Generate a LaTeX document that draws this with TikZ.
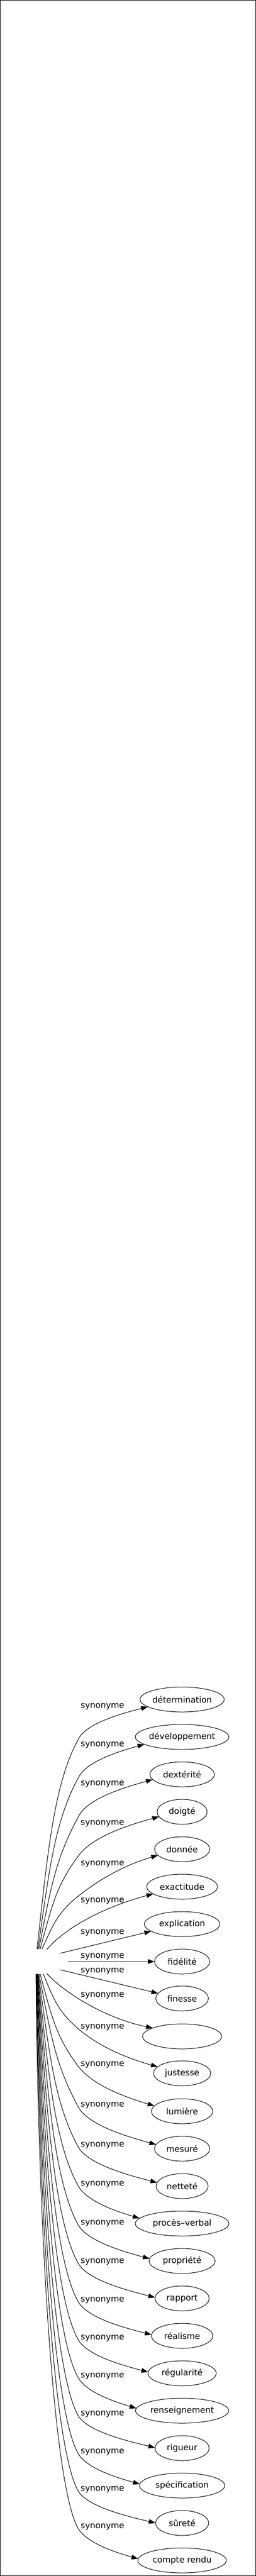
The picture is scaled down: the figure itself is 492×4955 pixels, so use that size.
\documentclass[tikz,border=0pt]{standalone}
\usepackage{fontspec}
\setmainfont{DejaVu Sans}
\usetikzlibrary{shapes.geometric,arrows.meta}
\begin{document}
\begin{tikzpicture}[x=0.75pt,y=-0.75pt,
  syn/.style={ellipse,draw,line width=0.75pt,inner sep=0pt,outer sep=0pt,minimum height=36pt,font=\fontsize{12.15pt}{14pt}\selectfont},
  rootnode/.style={ellipse,inner sep=0pt,outer sep=0pt,minimum width=87pt,minimum height=36pt},
  lab/.style={anchor=base,inner sep=0pt,font=\fontsize{12.15pt}{14pt}\selectfont},
  edge/.style={line width=0.75pt,-{Triangle[length=9.75pt,width=6.75pt]}}]
\useasboundingbox (0,0) rectangle (492,4955);
\draw[line width=0.75pt] (0.5,0.5) rectangle (491.3,4954.3);

\node[rootnode] (root) at (72,3773) {};

\node[syn,minimum width=120pt]    (n1)  at (350,3269) {détermination};
\node[syn,minimum width=131.25pt] (n2)  at (350,3341) {développement};
\node[syn,minimum width=93pt]     (n3)  at (350,3413) {dextérité};
\node[syn,minimum width=72pt]     (n4)  at (350,3485) {doigté};
\node[syn,minimum width=79.5pt]   (n5)  at (350,3557) {donnée};
\node[syn,minimum width=102pt]    (n6)  at (350,3629) {exactitude};
\node[syn,minimum width=108.75pt] (n7)  at (350,3701) {explication};
\node[syn,minimum width=79.5pt]   (n8)  at (350,3773) {fidélité};
\node[syn,minimum width=75.75pt]  (n9)  at (350,3844) {finesse};
\node[syn,minimum width=114pt]    (n10) at (350,3917) {};
\node[syn,minimum width=82.5pt]   (n11) at (350,3988) {justesse};
\node[syn,minimum width=88.5pt]   (n12) at (350,4061) {lumière};
\node[syn,minimum width=79.5pt]   (n13) at (350,4133) {mesuré};
\node[syn,minimum width=75pt]     (n14) at (350,4205) {netteté};
\node[syn,minimum width=135pt]    (n15) at (350,4277) {procès–verbal};
\node[syn,minimum width=95.25pt]  (n16) at (350,4349) {propriété};
\node[syn,minimum width=78pt]     (n17) at (350,4421) {rapport};
\node[syn,minimum width=88.5pt]   (n18) at (350,4493) {réalisme};
\node[syn,minimum width=98.25pt]  (n19) at (350,4565) {régularité};
\node[syn,minimum width=134.25pt] (n20) at (350,4637) {renseignement};
\node[syn,minimum width=78pt]     (n21) at (350,4709) {rigueur};
\node[syn,minimum width=123pt]    (n22) at (350,4781) {spécification};
\node[syn,minimum width=76.5pt]   (n23) at (350,4853) {sûreté};
\node[syn,minimum width=127.5pt]  (n24) at (350,4925) {compte rendu};

% edges
\draw[edge] (root.92) .. controls (91.5,3566.3) and (103.4,3428) .. (152,3343) .. controls (169.2,3313) and (238.3,3294.9) .. (n1.192);
\draw[edge] (root.88) .. controls (94.6,3599.6) and (104.5,3502) .. (152,3417) .. controls (169.3,3386) and (234.3,3367.3) .. (n2.191);
\draw[edge] (root.84) .. controls (97.6,3633.3) and (105.5,3576.8) .. (152,3492) .. controls (170.9,3457.5) and (244,3436.8) .. (n3.190);
\draw[edge] (root.78) .. controls (99.6,3667.5) and (107.1,3627.7) .. (152,3568) .. controls (179.7,3531.2) and (252,3509.1) .. (n4.192);
\draw[edge] (root.70) .. controls (102,3702.8) and (109.2,3680.1) .. (152,3646) .. controls (200.6,3607.3) and (250.5,3584.1) .. (n5.194);
\draw[edge] (root.52) .. controls (125,3708) and (200,3668) .. (n6.194);
\draw[edge] (root.20) -- (n7.193);
\draw[edge] (root.east) -- (n8.west);
\draw[edge] (root.-20) -- (n9.168);
\draw[edge] (root.-52) .. controls (120,3830) and (200,3882) .. (n10.164);
\draw[edge] (root.-65) .. controls (103.1,3844) and (109.8,3867.2) .. (150,3902) .. controls (192.4,3938.7) and (249.5,3960.7) .. (n11.165);
\draw[edge] (root.-78) .. controls (99,3876.6) and (106.3,3915.6) .. (150,3974) .. controls (178.7,4012.4) and (245.4,4035.4) .. (n12.169);
\draw[edge] (root.-83) .. controls (97.4,3911.8) and (105,3967.8) .. (150,4052) .. controls (169.5,4088.6) and (247.5,4110.5) .. (n13.171);
\draw[edge] (root.-86) .. controls (94.7,3946.4) and (104.2,4044) .. (150,4129) .. controls (168.7,4163.7) and (248.8,4184.4) .. (n14.172);
\draw[edge] (root.-88) .. controls (92.3,3980.2) and (103.7,4119) .. (150,4204) .. controls (167.2,4235.5) and (226.8,4254.4) .. (n15.173);
\draw[edge] (root.-89) .. controls (90.3,4013.9) and (103.4,4194) .. (150,4279) .. controls (168,4311.8) and (239.4,4331.5) .. (n16.176);
\draw[edge] (root.-90) .. controls (88.2,4047.2) and (103.2,4268) .. (150,4353) .. controls (168.2,4386.1) and (246.2,4406) .. (n17.178);
\draw[edge] (root.-91) .. controls (86.2,4080.5) and (103,4342) .. (150,4427) .. controls (167.7,4459) and (241.8,4478.1) .. (n18.178);
\draw[edge] (root.-92) .. controls (84.1,4113.4) and (102.7,4415) .. (150,4500) .. controls (167.5,4531.4) and (237.6,4550.2) .. (n19.178);
\draw[edge] (root.-93) .. controls (82,4146.2) and (102.4,4488) .. (150,4573) .. controls (166.6,4602.7) and (222.9,4620.5) .. (n20.177);
\draw[edge] (root.-94) .. controls (79.9,4179) and (102.2,4561) .. (150,4646) .. controls (167.4,4677) and (246.2,4695.7) .. (n21.179);
\draw[edge] (root.-95) .. controls (77.8,4211.9) and (101.9,4634) .. (150,4719) .. controls (166.7,4748.6) and (227,4766.4) .. (n22.178);
\draw[edge] (root.-96) .. controls (75.7,4244.3) and (101.7,4706) .. (150,4791) .. controls (167.6,4822) and (246.8,4840.6) .. (n23.180);
\draw[edge] (root.-97) .. controls (73.5,4276.7) and (101.4,4778) .. (150,4863) .. controls (166.9,4892.5) and (225.1,4910.2) .. (n24.178);

% labels
\node[lab] (l1)  at (197,3285) {synonyme};
\node[lab] (l2)  at (197,3359) {synonyme};
\node[lab] (l3)  at (197,3434) {synonyme};
\node[lab] (l4)  at (197,3510) {synonyme};
\node[lab] (l5)  at (197,3588) {synonyme};
\node[lab] (l6)  at (197,3659) {synonyme};
\node[lab] (l7)  at (197,3720) {synonyme};
\node[lab] (l8)  at (197,3766) {synonyme};
\node[lab] (l9)  at (197,3794) {synonyme};
\node[lab] (l10) at (197,3841) {synonyme};
\node[lab] (l11) at (197,3902) {synonyme};
\node[lab] (l12) at (197,3974) {synonyme};
\node[lab] (l13) at (197,4052) {synonyme};
\node[lab] (l14) at (197,4129) {synonyme};
\node[lab] (l15) at (197,4204) {synonyme};
\node[lab] (l16) at (197,4279) {synonyme};
\node[lab] (l17) at (197,4353) {synonyme};
\node[lab] (l18) at (197,4427) {synonyme};
\node[lab] (l19) at (197,4500) {synonyme};
\node[lab] (l20) at (197,4573) {synonyme};
\node[lab] (l21) at (197,4646) {synonyme};
\node[lab] (l22) at (197,4719) {synonyme};
\node[lab] (l23) at (197,4791) {synonyme};
\node[lab] (l24) at (197,4863) {synonyme};
\end{tikzpicture}
\end{document}
